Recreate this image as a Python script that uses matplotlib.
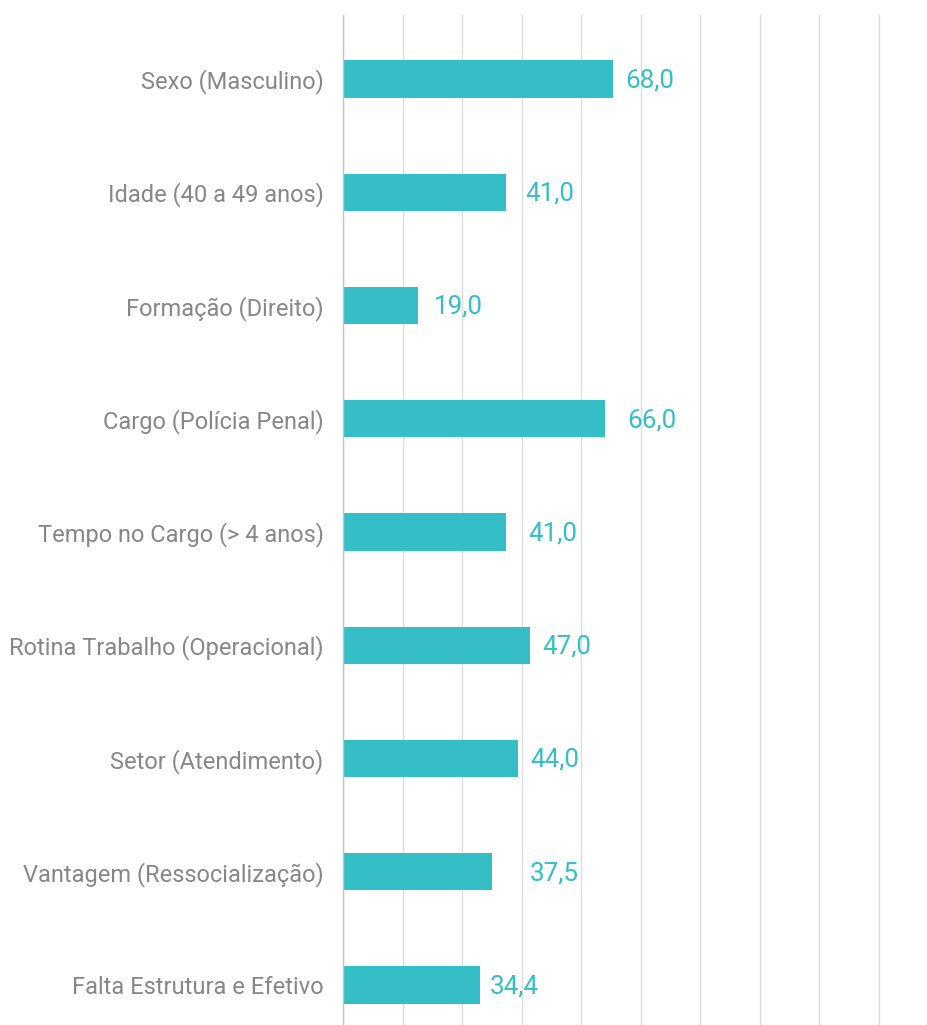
import matplotlib.pyplot as plt

categorias = [
    'Sexo (Masculino)',
    'Idade (40 a 49 anos)',
    'Formação (Direito)',
    'Cargo (Polícia Penal)',
    'Tempo no Cargo (> 4 anos)',
    'Rotina Trabalho (Operacional)',
    'Setor (Atendimento)',
    'Vantagem (Ressocialização)',
    'Falta Estrutura e Efetivo',
]
valores = [68.0, 41.0, 19.0, 66.0, 41.0, 47.0, 44.0, 37.5, 34.4]
rotulos = ['68,0', '41,0', '19,0', '66,0', '41,0', '47,0', '44,0', '37,5', '34,4']
# deslocamento horizontal dos rotulos (pontos)
desloc = [9, 14, 11, 16, 16, 9, 9, 27, 7]

TEAL = '#35BEC6'
CINZA = '#878787'

plt.rcParams['font.family'] = ['Roboto', 'DejaVu Sans']

fig = plt.figure(figsize=(9.27, 10.25), dpi=100)
ax = fig.add_axes([343 / 927, 0.0, (882 - 343) / 927, (1025 - 15) / 1025])

pos = list(range(len(categorias)))
ax.barh(pos, valores, height=0.33, color=TEAL, zorder=2)

for i in pos:
    ax.annotate(rotulos[i], xy=(valores[i], i), xytext=(desloc[i], -1),
                textcoords='offset points', va='center', ha='left',
                color=TEAL, fontsize=18.7)

ax.set_xlim(0, 135 * (882 - 343) / (879 - 343))
ax.set_ylim(8.353, -0.565)
ax.set_xticks(range(0, 136, 15))
ax.set_yticks(pos)
ax.set_yticklabels(categorias, fontsize=17, color=CINZA)
ax.tick_params(axis='y', length=0, pad=14)
ax.tick_params(axis='x', length=0, labelbottom=False)
ax.grid(axis='x', color='#dcdcdc', linewidth=1, zorder=0)
for s in ['top', 'right', 'bottom']:
    ax.spines[s].set_visible(False)
ax.spines['left'].set_color('#c4c4c4')
ax.spines['left'].set_linewidth(1)

fig.savefig('out.png', dpi=100, facecolor='white')
